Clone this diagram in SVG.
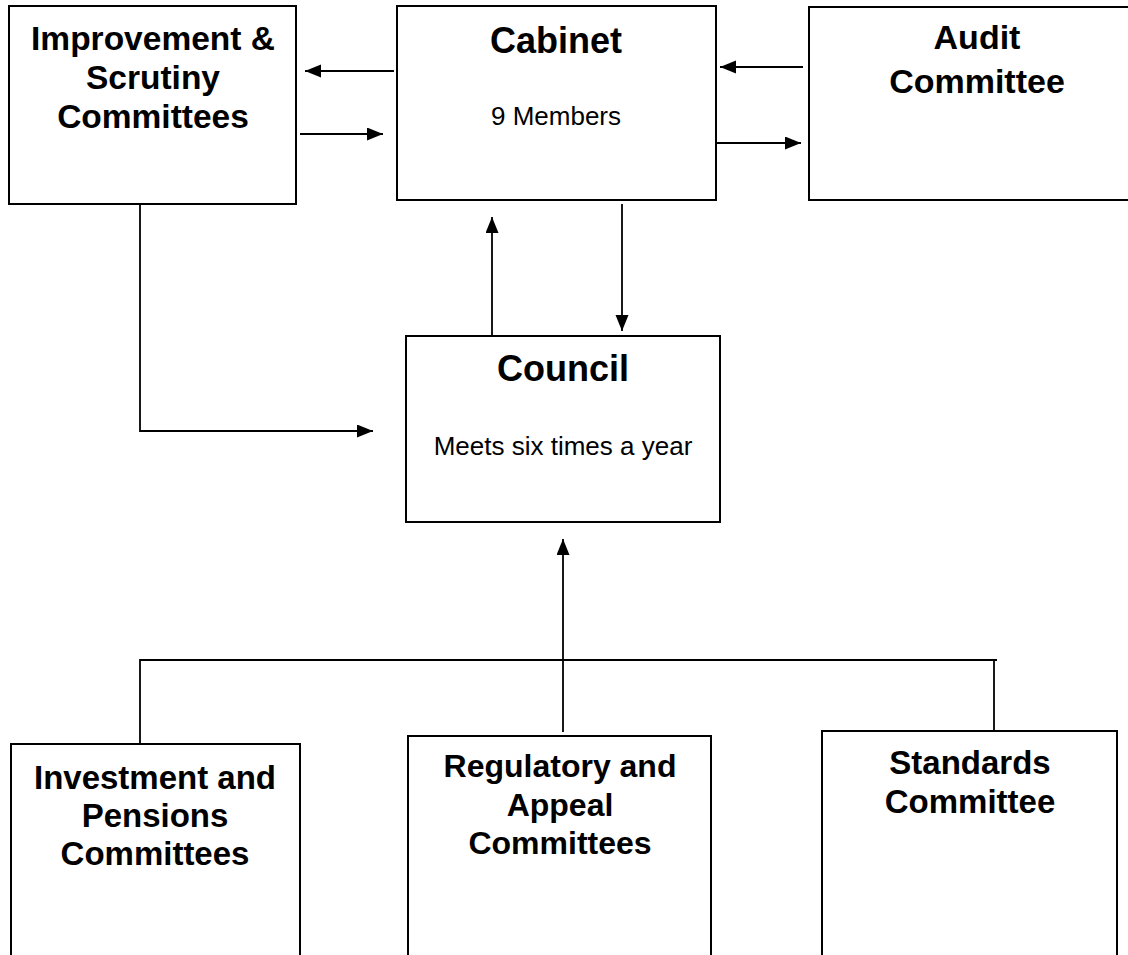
<svg xmlns="http://www.w3.org/2000/svg" width="1128" height="955" viewBox="0 0 1128 955">
<style>
.box{fill:#fff;stroke:#000;stroke-width:2}
.t{font-family:"Liberation Sans",Arial,sans-serif;font-weight:bold;text-anchor:middle;fill:#000}
.s{font-family:"Liberation Sans",Arial,sans-serif;text-anchor:middle;fill:#000}
.c{fill:none;stroke:#000;stroke-width:1.8}
</style>
<defs>
<marker id="ah" markerUnits="userSpaceOnUse" markerWidth="18" markerHeight="14" refX="16" refY="6.5" orient="auto">
<path d="M0,0 L16,6.5 L0,13 z" fill="#000"/>
</marker>
</defs>
<rect width="1128" height="955" fill="#fff"/>
<g id="connectors">
<line class="c" x1="394" y1="71" x2="305" y2="71" marker-end="url(#ah)"/>
<line class="c" x1="300" y1="134" x2="383" y2="134" marker-end="url(#ah)"/>
<line class="c" x1="803" y1="67" x2="720" y2="67" marker-end="url(#ah)"/>
<line class="c" x1="717" y1="143" x2="801" y2="143" marker-end="url(#ah)"/>
<polyline class="c" points="140,204 140,431 373,431" marker-end="url(#ah)"/>
<line class="c" x1="492" y1="335" x2="492" y2="217" marker-end="url(#ah)"/>
<line class="c" x1="622" y1="204" x2="622" y2="331" marker-end="url(#ah)"/>
<line class="c" x1="563" y1="732" x2="563" y2="539" marker-end="url(#ah)"/>
<polyline class="c" points="140,744 140,660 997,660"/>
<line class="c" x1="994" y1="660" x2="994" y2="731"/>
</g>
<g id="improvement">
<rect class="box" x="9" y="6" width="287" height="198"/>
<text class="t" font-size="33.5" x="153" y="50">Improvement &amp;</text>
<text class="t" font-size="33.5" x="153" y="89">Scrutiny</text>
<text class="t" font-size="33.5" x="153" y="128">Committees</text>
</g>
<g id="cabinet">
<rect class="box" x="397" y="6" width="319" height="194"/>
<text class="t" font-size="36" x="556" y="53">Cabinet</text>
<text class="s" font-size="26" x="556" y="125">9 Members</text>
</g>
<g id="audit">
<rect class="box" x="809" y="7" width="340" height="193"/>
<text class="t" font-size="34" x="977" y="49">Audit</text>
<text class="t" font-size="34" x="977" y="93">Committee</text>
</g>
<g id="council">
<rect class="box" x="406" y="336" width="314" height="186"/>
<text class="t" font-size="36" x="563" y="381">Council</text>
<text class="s" font-size="26" x="563" y="455">Meets six times a year</text>
</g>
<g id="investment">
<rect class="box" x="11" y="744" width="289" height="230"/>
<text class="t" font-size="33" x="155" y="789">Investment and</text>
<text class="t" font-size="33" x="155" y="827">Pensions</text>
<text class="t" font-size="33" x="155" y="865">Committees</text>
</g>
<g id="regulatory">
<rect class="box" x="408" y="736" width="303" height="240"/>
<text class="t" font-size="32" x="560" y="777">Regulatory and</text>
<text class="t" font-size="32" x="560" y="816">Appeal</text>
<text class="t" font-size="32" x="560" y="854">Committees</text>
</g>
<g id="standards">
<rect class="box" x="822" y="731" width="295" height="245"/>
<text class="t" font-size="33" x="970" y="774">Standards</text>
<text class="t" font-size="33" x="970" y="813">Committee</text>
</g>
</svg>
